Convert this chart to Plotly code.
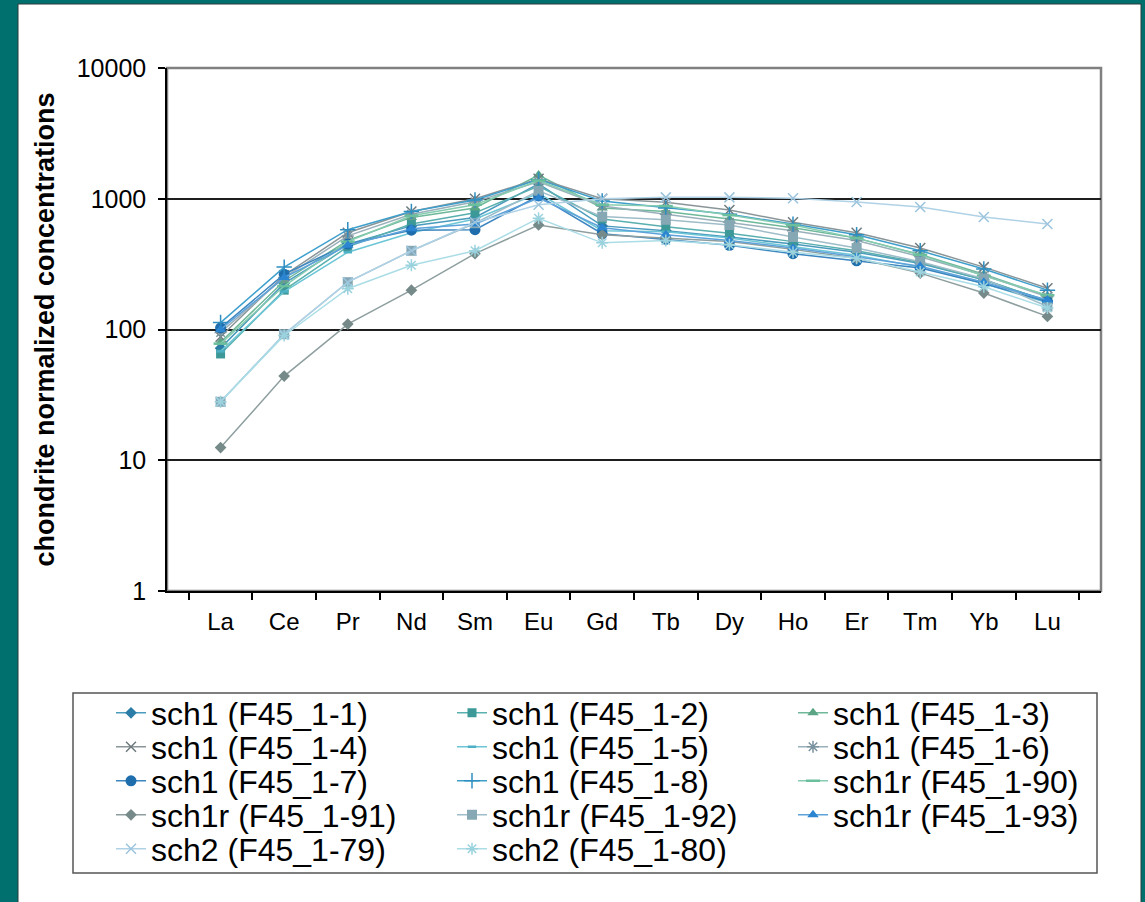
import plotly.graph_objects as go

# Rare earth elements (x axis categories)
elements = ["La", "Ce", "Pr", "Nd", "Sm", "Eu", "Gd", "Tb", "Dy", "Ho", "Er", "Tm", "Yb", "Lu"]

# Chondrite-normalized concentrations per sample
sch1_F45_1_1 = [72, 225, 450, 620, 720, 1300, 620, 570, 510, 450, 390, 320, 240, 165]
sch1_F45_1_2 = [65, 200, 430, 640, 780, 1250, 700, 610, 545, 470, 400, 325, 240, 165]
sch1_F45_1_3 = [80, 235, 480, 720, 850, 1520, 850, 800, 700, 600, 500, 375, 265, 180]
sch1_F45_1_4 = [88, 260, 550, 800, 1000, 1420, 1000, 940, 820, 660, 550, 420, 300, 207]
sch1_F45_1_5 = [68, 195, 390, 550, 700, 1100, 570, 560, 500, 430, 370, 300, 225, 160]
sch1_F45_1_6 = [95, 250, 520, 760, 950, 1350, 880, 760, 660, 570, 480, 360, 260, 178]
sch1_F45_1_7 = [103, 265, 450, 575, 580, 1050, 540, 490, 440, 380, 335, 295, 225, 163]
sch1_F45_1_8 = [113, 300, 580, 800, 980, 1400, 960, 850, 760, 640, 530, 400, 290, 200]
sch1r_F45_1_90 = [78, 215, 470, 740, 900, 1380, 900, 880, 750, 630, 500, 372, 257, 183]
sch1r_F45_1_91 = [12.5, 44, 110, 200, 380, 630, 530, 500, 470, 410, 350, 270, 190, 126]
sch1r_F45_1_92 = [28, 92, 230, 400, 650, 1150, 730, 690, 630, 510, 420, 330, 245, 150]
sch1r_F45_1_93 = [100, 250, 440, 590, 640, 1010, 600, 530, 480, 420, 360, 305, 230, 168]
sch2_F45_1_79 = [28, 92, 230, 400, 660, 900, 1000, 1025, 1025, 1010, 945, 865, 725, 640]
sch2_F45_1_80 = [28, 90, 205, 310, 400, 710, 460, 480, 445, 390, 350, 275, 212, 146]

# Y axis ticks
y_ticks = [1, 10, 100, 1000, 10000]
y_tick_labels = ["1", "10", "100", "1000", "10000"]

# name, values, marker symbol, marker size, line colour, marker colour, legend column, legend row
series = [
    ("sch1 (F45_1-1)", sch1_F45_1_1, "diamond", 9, "#4B9BBE", "#2B7DA8", 0, 0),
    ("sch1 (F45_1-2)", sch1_F45_1_2, "square", 9, "#5AAFAF", "#3D9898", 1, 0),
    ("sch1 (F45_1-3)", sch1_F45_1_3, "triangle-up", 10, "#6FB89A", "#5BA585", 2, 0),
    ("sch1 (F45_1-4)", sch1_F45_1_4, "x-thin", 10, "#8A9598", "#6E7A7E", 0, 1),
    ("sch1 (F45_1-5)", sch1_F45_1_5, "line-ew", 6, "#6CC6D6", "#4EB0C4", 1, 1),
    ("sch1 (F45_1-6)", sch1_F45_1_6, "asterisk", 10, "#9AB0BA", "#7A93A0", 2, 1),
    ("sch1 (F45_1-7)", sch1_F45_1_7, "circle", 11, "#3D86C0", "#1E6EAE", 0, 2),
    ("sch1 (F45_1-8)", sch1_F45_1_8, "cross-thin", 11, "#3F9FCC", "#2E8EC0", 1, 2),
    ("sch1r (F45_1-90)", sch1r_F45_1_90, "line-ew", 10, "#86CCB0", "#6BBF9D", 2, 2),
    ("sch1r (F45_1-91)", sch1r_F45_1_91, "diamond", 9, "#8E9E9E", "#778A8A", 0, 3),
    ("sch1r (F45_1-92)", sch1r_F45_1_92, "square", 10, "#9FBDC8", "#86A8B5", 1, 3),
    ("sch1r (F45_1-93)", sch1r_F45_1_93, "triangle-up", 10, "#5DA2DA", "#2B85D0", 2, 3),
    ("sch2 (F45_1-79)", sch2_F45_1_79, "x-thin", 10, "#B0D2E6", "#9CC4DC", 0, 4),
    ("sch2 (F45_1-80)", sch2_F45_1_80, "asterisk", 10, "#ABDDE6", "#9AD2DE", 1, 4),
]

# Figure geometry (pixels)
W, H = 1145, 902
PL, PR, PT, PB = 167, 1101, 68, 591
pw, ph = PR - PL, PB - PT


def px_x(p):
    return (p - PL) / pw


def px_y(p):
    return (PB - p) / ph


FONT = "Liberation Sans, Arial, sans-serif"
legend_cols = [111, 452, 793]
legend_rows = [713, 747, 781, 815, 849]

fig = go.Figure()
legends = {}
for i, (name, vals, sym, size, lcol, mcol, col, row) in enumerate(series):
    key = "legend" if i == 0 else f"legend{i + 1}"
    thin = sym in ("x-thin", "cross-thin", "asterisk", "line-ew")
    marker = dict(symbol=sym, size=size, color=mcol,
                  line=dict(color=mcol, width=2.5 if sym == "line-ew" else (1.5 if thin else 0)))
    fig.add_trace(go.Scatter(
        x=elements, y=vals, name=name, mode="lines+markers",
        line=dict(color=lcol, width=1.5), marker=marker, legend=key,
    ))
    legends[key] = dict(
        x=px_x(legend_cols[col]), y=px_y(legend_rows[row]),
        xanchor="left", yanchor="middle",
        bgcolor="rgba(0,0,0,0)", borderwidth=0,
        font=dict(family=FONT, size=32, color="#000000"),
    )

shapes = [
    # white panel on teal background
    dict(type="rect", xref="paper", yref="paper",
         x0=px_x(18), x1=px_x(1141), y0=px_y(4), y1=px_y(905),
         fillcolor="#FFFFFF", line=dict(color="#2A3A3A", width=1), layer="below"),
    # plot area border
    dict(type="rect", xref="paper", yref="paper", x0=0, x1=1, y0=0, y1=1,
         fillcolor="rgba(0,0,0,0)", line=dict(color="#808080", width=2.5), layer="below"),
    # legend box
    dict(type="rect", xref="paper", yref="paper",
         x0=px_x(73), x1=px_x(1097), y0=px_y(693), y1=px_y(873),
         fillcolor="#FFFFFF", line=dict(color="#555555", width=1.5), layer="below"),
]

fig.update_layout(
    width=W, height=H,
    margin=dict(l=PL, r=W - PR, t=PT, b=H - PB, pad=0),
    paper_bgcolor="#00706E",
    plot_bgcolor="#C0C0C0",
    font=dict(family=FONT, color="#000000"),
    shapes=shapes,
    showlegend=True,
    **legends,
)

fig.update_xaxes(
    type="category", categoryorder="array", categoryarray=elements,
    showgrid=False, showline=True, linecolor="#000000", linewidth=1.5,
    ticks="outside", tickson="boundaries", ticklen=7, tickcolor="#000000", tickwidth=1.5,
    tickfont=dict(family=FONT, size=24, color="#000000"), ticklabelstandoff=8,
    automargin=False, zeroline=False,
)
fig.update_yaxes(
    type="log", range=[0, 4],
    tickvals=y_ticks, ticktext=y_tick_labels,
    showgrid=True, gridcolor="#1E1E1E", gridwidth=1.5,
    showline=True, linecolor="#000000", linewidth=1.5,
    ticks="outside", ticklen=7, tickcolor="#000000", tickwidth=1.5,
    tickfont=dict(family=FONT, size=25, color="#000000"), ticklabelstandoff=7,
    title=dict(text="chondrite normalized concentrations",
               font=dict(family=FONT, size=27, color="#000000", weight="bold"), standoff=14),
    automargin=False, zeroline=False,
)

fig.write_html("out.html")
